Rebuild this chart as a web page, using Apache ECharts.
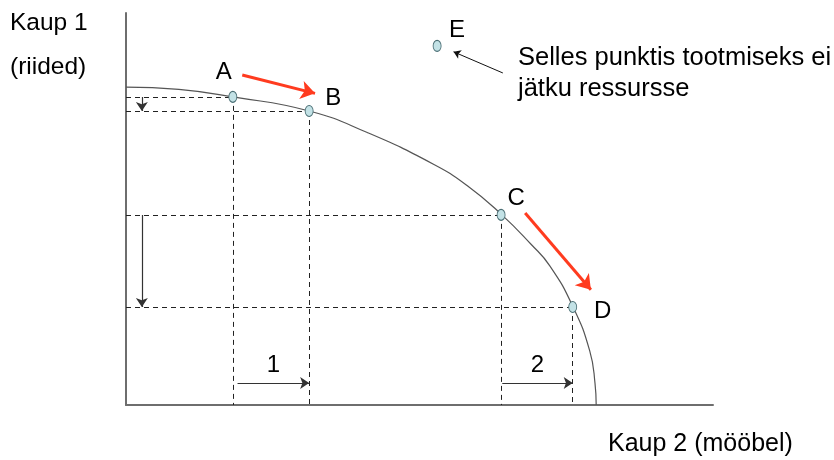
<!DOCTYPE html>
<html>
<head>
<meta charset="utf-8">
<script src="https://cdn.jsdelivr.net/npm/echarts@6/dist/echarts.min.js"></script>
<style>
  html, body { margin: 0; padding: 0; background: #fff; }
  #Chart { width: 834px; height: 460px; }
</style>
</head>
<body>
<div id="Chart"></div>
<script>
// tootmisvõimaluste kõver (loetud pildilt)
const frontierX = [0, 9.0, 18.2, 31.2, 41.1, 52.3, 58.1, 63.9, 69.0, 72.2, 76.1, 79.0, 79.9, 80.1];
const frontierY = [81.1, 80.5, 78.6, 75.0, 69.5, 61.5, 56.0, 48.7, 41.0, 35.5, 25.2, 13.8, 5.5, 0];

// punktid
const pointNames = ['A', 'B', 'C', 'D', 'E'];
const pointX = [18.2, 31.2, 63.9, 76.1, 53.0];
const pointY = [78.6, 75.0, 48.5, 25.0, 91.6];
const labelOffsets = [[-9, -25], [24, -13], [15, -17], [30, 4], [20, -16]];

// punased nooled A->B ja C->D
const redArrows = [
    [[19.8, 84.2], [32.2, 79.5]],
    [[68.0, 49.0], [79.2, 29.4]]
];
// nool tekstilt punktini E
const noteArrow = [[64.2, 84.7], [55.8, 90.1]];

const shiftLabels = ['1', '2'];
const arrowX = 2.7;   // vertikaalsete noolte asukoht
const arrowY = 5.6;   // horisontaalsete noolte asukoht

let myChart = echarts.init(document.getElementById('Chart'));

let curveData = frontierX.map((x, i) => [x, frontierY[i]]);

// katkendjooned iga punkti juurest telgedeni (ainult A-D)
let dashData = [];
for (let i = 0; i < 4; i++) {
    dashData.push({ coords: [[0, pointY[i]], [pointX[i], pointY[i]]] });
    dashData.push({ coords: [[pointX[i], pointY[i]], [pointX[i], 0]] });
}

// nihke nooled
let downArrows = [
    { coords: [[arrowX, pointY[0]], [arrowX, pointY[1]]] },
    { coords: [[arrowX, pointY[2]], [arrowX, pointY[3]]] }
];
let rightArrows = [
    { coords: [[pointX[0] + 0.8, arrowY], [pointX[1], arrowY]], label: { formatter: shiftLabels[0] } },
    { coords: [[pointX[2] + 0.2, arrowY], [pointX[3], arrowY]], label: { formatter: shiftLabels[1] } }
];

let scatterData = pointNames.map((n, i) => ({
    name: n,
    value: [pointX[i], pointY[i]],
    label: { offset: labelOffsets[i] }
}));

const font = 'Liberation Sans, Arial, sans-serif';

myChart.setOption({
    animation: false,
    grid: { left: 126, top: 13, width: 587, height: 392 },
    xAxis: {
        type: 'value', min: 0, max: 100,
        axisLine: { show: true, onZero: false, lineStyle: { color: '#6e6e6e', width: 2 } },
        axisTick: { show: false }, axisLabel: { show: false }, splitLine: { show: false }
    },
    yAxis: {
        type: 'value', min: 0, max: 100,
        axisLine: { show: true, onZero: false, lineStyle: { color: '#6e6e6e', width: 2 } },
        axisTick: { show: false }, axisLabel: { show: false }, splitLine: { show: false }
    },
    graphic: [
        { type: 'text', left: 10, top: 11, style: { text: 'Kaup 1', font: '24.5px ' + font, fill: '#000' } },
        { type: 'text', left: 10, top: 55, style: { text: '(riided)', font: '24.5px ' + font, fill: '#000' } },
        { type: 'text', left: 608, top: 432, style: { text: 'Kaup 2 (mööbel)', font: '25px ' + font, fill: '#000' } },
        { type: 'text', left: 518, top: 42, style: { text: 'Selles punktis tootmiseks ei\njätku ressursse', font: '25.5px ' + font, fill: '#000', lineHeight: 31 } }
    ],
    series: [
        {
            type: 'lines', coordinateSystem: 'cartesian2d', silent: true, z: 1,
            symbol: ['none', 'none'],
            lineStyle: { color: '#222', width: 1, type: [5, 4], opacity: 1 },
            data: dashData
        },
        {
            type: 'line', data: curveData, smooth: 0.5, showSymbol: false, z: 2,
            lineStyle: { color: '#555', width: 1.2 }
        },
        {
            type: 'lines', coordinateSystem: 'cartesian2d', silent: true, z: 3,
            symbol: ['none', 'arrow'], symbolSize: 9,
            lineStyle: { color: '#333', width: 1.2, opacity: 1 },
            data: downArrows
        },
        {
            type: 'lines', coordinateSystem: 'cartesian2d', silent: true, z: 3,
            symbol: ['none', 'arrow'], symbolSize: 9,
            lineStyle: { color: '#333', width: 1.2, opacity: 1 },
            label: { show: true, position: 'middle', distance: 6, color: '#000', fontSize: 24, fontFamily: font },
            data: rightArrows
        },
        {
            type: 'lines', coordinateSystem: 'cartesian2d', silent: true, z: 3,
            symbol: ['none', 'arrow'], symbolSize: 14,
            lineStyle: { color: '#ff3b1f', width: 3, opacity: 1 },
            data: redArrows.map(c => ({ coords: c }))
        },
        {
            type: 'lines', coordinateSystem: 'cartesian2d', silent: true, z: 3,
            symbol: ['none', 'arrow'], symbolSize: 7,
            lineStyle: { color: '#111', width: 1, opacity: 1 },
            data: [{ coords: noteArrow }]
        },
        {
            type: 'scatter', data: scatterData, z: 5,
            symbol: 'circle', symbolSize: [8, 11],
            itemStyle: { color: '#c3e2e6', borderColor: '#4b6f75', borderWidth: 1, opacity: 1 },
            label: {
                show: true, position: 'inside', formatter: '{b}',
                color: '#000', fontSize: 24, fontFamily: font
            }
        }
    ]
});
</script>
</body>
</html>
